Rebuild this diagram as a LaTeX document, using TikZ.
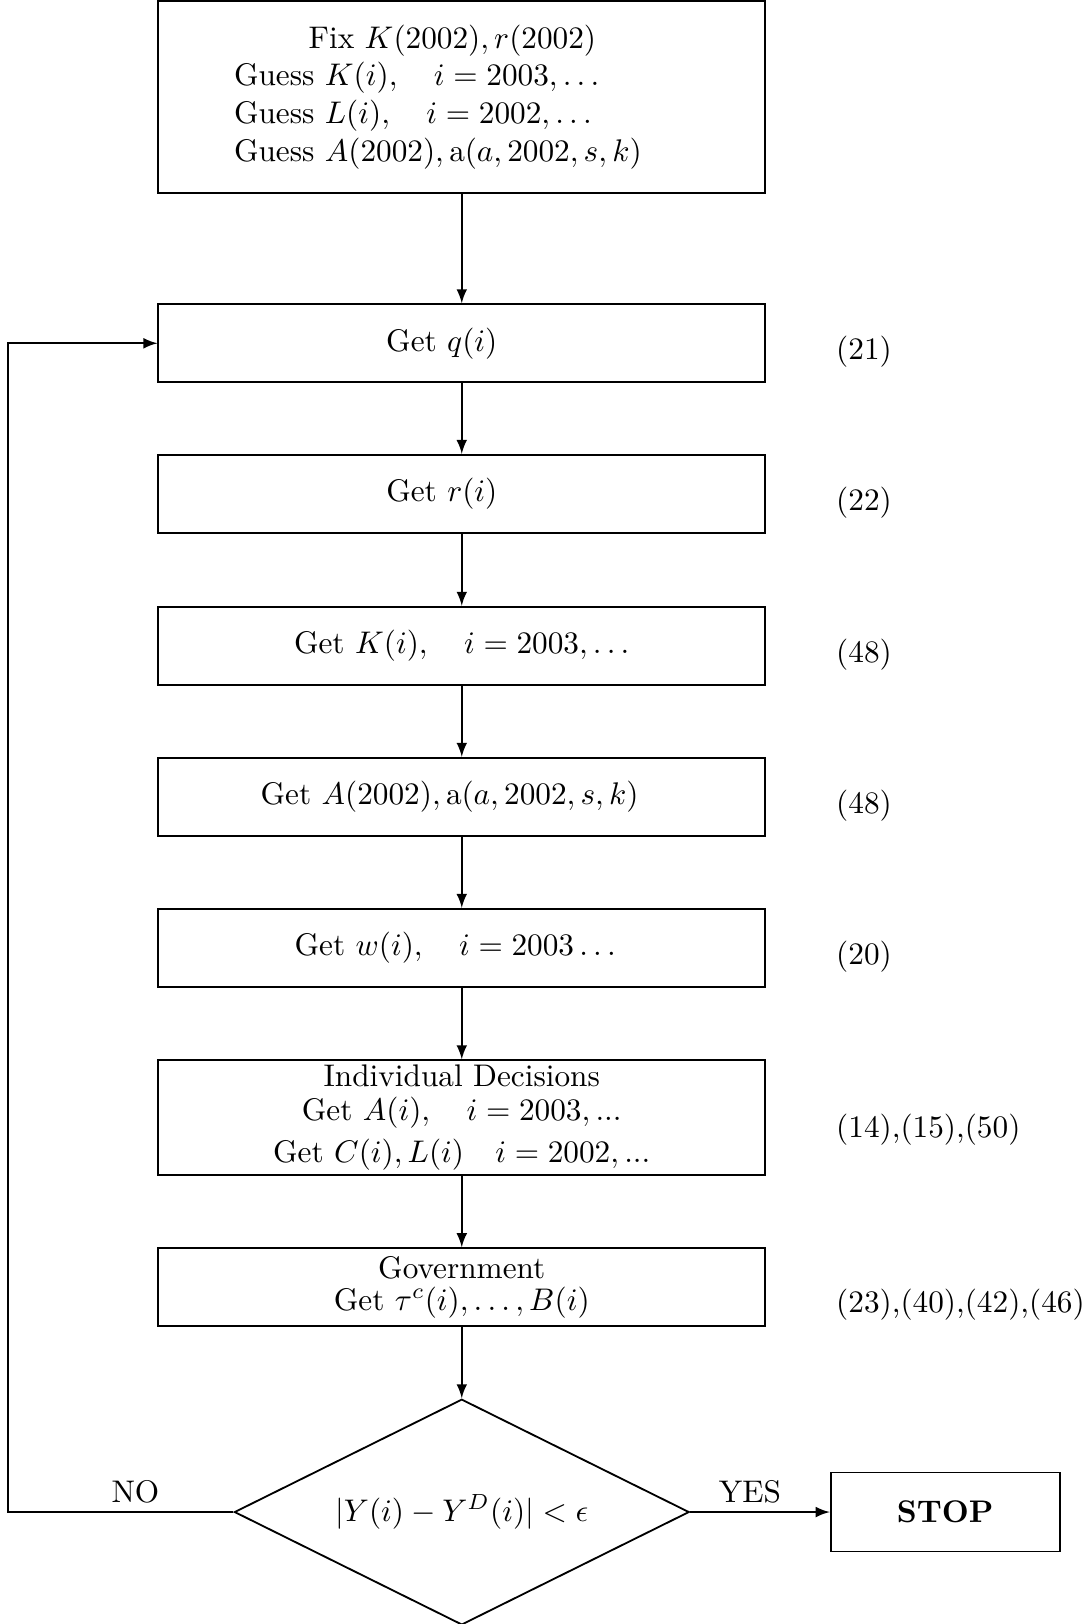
\documentclass[tikz,border=0pt]{standalone}
\usepackage{fix-cm}
\usetikzlibrary{shapes.geometric}
\begin{document}
\begin{tikzpicture}[yscale=-1,
    every node/.style={font=\fontsize{10.25}{12.4}\selectfont},
    stepbox/.style={draw, line width=0.6pt, minimum width=6.99cm, minimum height=0.9cm, inner sep=0pt, align=center},
    eqref/.style={anchor=west},
    flow/.style={line width=0.6pt, -latex}]
    % page frame
    \useasboundingbox (0, 0) rectangle (12.58, 18.71);
    % starting guesses
    \node [stepbox, minimum height=2.21cm] (guess) at (5.32, 1.12) {\begin{tabular}{@{}l@{}}\hspace*{0.86cm}Fix $K(2002), r(2002)$\\ Guess $K(i), \quad i=2003,\dots$\\ Guess $L(i), \quad i=2002,\dots$\\ Guess $A(2002), \mathrm{a}(a,2002,s,k)$\end{tabular}\hspace*{0.55cm}};
    % steps of the loop
    \node [stepbox] (q) at (5.32, 3.955) {Get $q(i)$\hspace*{0.46cm}};
    \node [stepbox] (r) at (5.32, 5.69) {Get $r(i)$\hspace*{0.46cm}};
    \node [stepbox] (k) at (5.32, 7.44) {Get $K(i), \quad i=2003,\dots$};
    \node [stepbox] (a) at (5.32, 9.18) {Get $A(2002), \mathrm{a}(a,2002,s,k)$\hspace*{0.28cm}};
    \node [stepbox] (w) at (5.32, 10.92) {Get $w(i), \quad i=2003\dots$\hspace*{0.15cm}};
    \node [stepbox, minimum height=1.32cm] (ind) at (5.32, 12.875) {Individual Decisions\\[-1.2pt] Get $A(i), \quad i=2003,...$\\[1.2pt] Get $C(i), L(i) \quad i=2002,...$};
    \node [stepbox] (gov) at (5.32, 14.83) {Government\\[-2pt] Get $\tau^c(i),\dots,B(i)$};
    % convergence test
    \node [draw, diamond, aspect=2, line width=0.6pt, minimum width=5.24cm, minimum height=2.6cm, inner sep=0pt] (test) at (5.32, 17.42) {$|Y(i)-Y^D(i)|<\epsilon$};
    \node [draw, line width=0.6pt, minimum width=2.64cm, minimum height=0.91cm] (stop) at (10.89, 17.42) {\textbf{STOP}};
    % equation numbers
    \node [eqref] (eq21) at (9.51, 4.05) {(21)};
    \node [eqref] (eq22) at (9.51, 5.79) {(22)};
    \node [eqref] (eq48a) at (9.51, 7.54) {(48)};
    \node [eqref] (eq48b) at (9.51, 9.28) {(48)};
    \node [eqref] (eq20) at (9.51, 11.02) {(20)};
    \node [eqref] (eq14) at (9.51, 13.01) {(14),(15),(50)};
    \node [eqref] (eq23) at (9.51, 15.03) {(23),(40),(42),(46)};
    % branch labels
    \node (no) at (1.56, 17.19) {NO};
    \node (yes) at (8.64, 17.19) {YES};
    % arrows down
    \draw [flow] (guess) -- (q);
    \foreach \from/\to in {q/r, r/k, k/a, a/w, w/ind, ind/gov, gov/test}
        \draw [flow] (\from) -- (\to);
    % exit
    \draw [flow] (test) -- (stop);
    % back to the top
    \coordinate (back) at (0.096, 17.42);
    \draw [flow] (test) -- (back) |- (q);
\end{tikzpicture}
\end{document}
